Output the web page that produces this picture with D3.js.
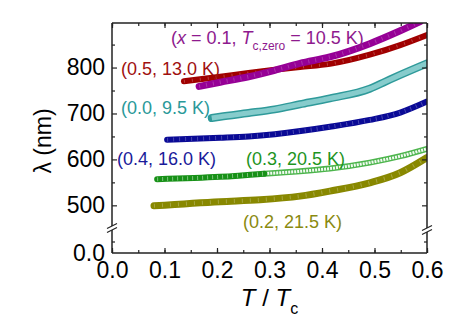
<!DOCTYPE html>
<html>
<head>
<meta charset="utf-8">
<script src="https://cdn.jsdelivr.net/npm/d3@7"></script>
<style>
  body { margin: 0; background: #fff; }
  text { font-family: "Liberation Sans", Arial, sans-serif; }
</style>
</head>
<body>
<div id="chart"></div>
<script>
// T / Tc and penetration depth (nm)
const tPurple = [0.166, 0.206, 0.26, 0.31, 0.358, 0.415, 0.491, 0.549, 0.587];
const lPurple = [759, 768, 780, 794, 809, 823, 852, 880, 900];
const tRed = [0.137, 0.206, 0.26, 0.31, 0.358, 0.415, 0.491, 0.549, 0.6];
const lRed = [770, 780, 788, 795, 801, 808, 828, 849, 871];
const tTeal = [0.19, 0.206, 0.26, 0.31, 0.358, 0.415, 0.491, 0.52, 0.549, 0.6];
const lTeal = [690, 693, 701, 709, 720, 733, 754, 769, 784, 809];
const tNavy = [0.105, 0.206, 0.26, 0.31, 0.415, 0.491, 0.549, 0.6];
const lNavy = [643, 647, 650, 655, 671, 686, 702, 726];
const tGreen = [0.086, 0.206, 0.29, 0.358, 0.415, 0.491, 0.549, 0.6];
const lGreen = [557, 562, 569, 574, 580, 593, 607, 623];
const tOlive = [0.08, 0.206, 0.282, 0.358, 0.415, 0.491, 0.549, 0.6];
const lOlive = [499, 508, 512, 520, 531, 549, 571, 604];
const greenOpenFrom = 0.29; // green markers turn open from this T/Tc on

const xTicks = [0, 0.1, 0.2, 0.3, 0.4, 0.5, 0.6];
const yTicksUpper = [500, 600, 700, 800];
const yTicksLower = [0];

const W = 469, H = 322;
const m = { left: 112, top: 23, right: 42, bottom: 69 };
const x = d3.scaleLinear([0, 0.6], [m.left, W - m.right]);
const yUp = d3.scaleLinear([455, 897], [226, m.top]);
const yLow = d3.scaleLinear([0, 50], [H - m.bottom, 230]);

const svg = d3.select('#chart').append('svg')
  .attr('width', W).attr('height', H);

svg.append('clipPath').attr('id', 'clip')
  .append('rect')
  .attr('x', x(0)).attr('y', yUp.range()[1])
  .attr('width', x(0.6) - x(0)).attr('height', yUp.range()[0] - yUp.range()[1]);

const line = d3.line().x(d => x(d[0])).y(d => yUp(d[1])).curve(d3.curveMonotoneX);
const plot = svg.append('g').attr('clip-path', 'url(#clip)');

// dense markers -> thick stroked band, with faint stripes for the marker texture
function band(pts, color, width, inner) {
  plot.append('path').attr('d', line(pts))
    .attr('fill', 'none').attr('stroke', color)
    .attr('stroke-width', width).attr('stroke-linecap', 'round');
  if(inner) {
    plot.append('path').attr('d', line(pts))
      .attr('fill', 'none').attr('stroke', inner.color)
      .attr('stroke-width', inner.width)
      .attr('stroke-dasharray', inner.dash || null)
      .attr('opacity', inner.opacity || 1);
  }
}
const zip = (ts, ls) => ts.map((t, i) => [t, ls[i]]);

band(zip(tOlive, lOlive), '#888800', 7, { color: '#fff', width: 4, dash: '1 7', opacity: 0.25 });

const green = zip(tGreen, lGreen);
band(green.filter(d => d[0] >= greenOpenFrom), '#4db54d', 6, { color: '#f2faf2', width: 3, dash: '2 1' });
band(green.filter(d => d[0] <= greenOpenFrom), '#179117', 6, { color: '#fff', width: 4, dash: '1 4', opacity: 0.45 });

band(zip(tNavy, lNavy), '#0a0a96', 6, { color: '#fff', width: 4, dash: '1 5', opacity: 0.25 });
band(zip(tTeal, lTeal), '#2f9a9a', 8, { color: '#86cccc', width: 5 });
band(zip(tRed, lRed), '#a00000', 6, { color: '#fff', width: 3, dash: '1 7', opacity: 0.25 });
band(zip(tPurple, lPurple), '#960096', 7, { color: '#fff', width: 4, dash: '1 6', opacity: 0.2 });

// axes
const axisColor = '#222';
function styleAxis(g) {
  g.select('.domain').remove();
  g.selectAll('line').attr('stroke', axisColor).attr('stroke-width', 1.2);
  g.selectAll('text').attr('fill', '#000').style('font-size', '23px')
    .style('font-family', '"Liberation Sans", Arial, sans-serif');
}
const fmt = d3.format('.1f');
const xMinor = d3.range(0, 0.601, 0.05);

svg.append('g').attr('transform', `translate(0,${H - m.bottom})`)
  .call(d3.axisBottom(x).tickValues(xMinor).tickSize(-3).tickFormat(''))
  .call(styleAxis);
svg.append('g').attr('transform', `translate(0,${H - m.bottom})`)
  .call(d3.axisBottom(x).tickValues(xTicks).tickSize(-5).tickPadding(9).tickFormat(fmt))
  .call(styleAxis);
svg.append('g').attr('transform', `translate(0,${m.top})`)
  .call(d3.axisTop(x).tickValues(xMinor).tickSize(-3).tickFormat(''))
  .call(styleAxis);
svg.append('g').attr('transform', `translate(0,${m.top})`)
  .call(d3.axisTop(x).tickValues(xTicks).tickSize(-5).tickFormat(''))
  .call(styleAxis);

const yMinorUp = [550, 650, 750, 850];
[[m.left, d3.axisLeft], [W - m.right, d3.axisRight]].forEach(([px, ax], k) => {
  svg.append('g').attr('transform', `translate(${px},0)`)
    .call(ax(yUp).tickValues(yMinorUp).tickSize(-3).tickFormat(''))
    .call(styleAxis);
  svg.append('g').attr('transform', `translate(${px},0)`)
    .call(ax(yUp).tickValues(yTicksUpper).tickSize(-5).tickPadding(7).tickFormat(k ? '' : d3.format('d')))
    .call(styleAxis);
  svg.append('g').attr('transform', `translate(${px},0)`)
    .call(ax(yLow).tickValues([25]).tickSize(-3).tickFormat(''))
    .call(styleAxis);
  svg.append('g').attr('transform', `translate(${px},0)`)
    .call(ax(yLow).tickValues(yTicksLower).tickSize(0).tickPadding(7).tickFormat(k ? '' : fmt))
    .call(styleAxis);
});

// frame with the broken y axis
const frame = svg.append('g').attr('stroke', axisColor).attr('stroke-width', 1.5).attr('fill', 'none');
frame.append('line').attr('x1', x(0)).attr('x2', x(0.6)).attr('y1', yUp.range()[1]).attr('y2', yUp.range()[1]);
frame.append('line').attr('x1', x(0)).attr('x2', x(0.6)).attr('y1', yLow.range()[0]).attr('y2', yLow.range()[0]);
[x(0), x(0.6)].forEach((px, k) => {
  const off = k ? 2 : 0;
  frame.append('line').attr('x1', px).attr('x2', px).attr('y1', yUp.range()[1]).attr('y2', yUp.range()[0] + off);
  frame.append('line').attr('x1', px).attr('x2', px).attr('y1', yLow.range()[1] + off).attr('y2', yLow.range()[0]);
  [yUp.range()[0] + off, yLow.range()[1] + off].forEach(py => {
    frame.append('line').attr('x1', px - 5).attr('y1', py + 2.5).attr('x2', px + 5).attr('y2', py - 2.5)
      .attr('stroke-width', 1.2);
  });
});

// axis titles
svg.append('text')
  .attr('transform', `translate(51,${(yUp.range()[1] + yLow.range()[0]) / 2 + 3}) rotate(-90)`)
  .attr('text-anchor', 'middle').style('font-size', '23px')
  .text('λ (nm)');
const xt = svg.append('text').attr('x', (x(0) + x(0.6)) / 2).attr('y', 306)
  .attr('text-anchor', 'middle').style('font-size', '24px');
xt.append('tspan').style('font-style', 'italic').text('T');
xt.append('tspan').text(' / ');
xt.append('tspan').style('font-style', 'italic').text('T');
xt.append('tspan').attr('dy', 8).style('font-size', '16px').text('c');

// series labels
const labels = [
  { text: '(0.5, 13.0 K)', color: '#a01010', x: 121, y: 75 },
  { text: '(0.0, 9.5 K)', color: '#2a9999', x: 121, y: 114 },
  { text: '(0.4, 16.0 K)', color: '#1a1a9a', x: 117, y: 165 },
  { text: '(0.3, 20.5 K)', color: '#1e941e', x: 246, y: 165 },
  { text: '(0.2, 21.5 K)', color: '#8a8a10', x: 243, y: 228 }
];
labels.forEach(d => {
  svg.append('text').attr('x', d.x).attr('y', d.y)
    .attr('fill', d.color).style('font-size', '18px').text(d.text);
});
const pl = svg.append('text').attr('x', 171).attr('y', 44)
  .attr('fill', '#8e1a8e').style('font-size', '18px');
pl.append('tspan').text('(');
pl.append('tspan').style('font-style', 'italic').text('x');
pl.append('tspan').text(' = 0.1, ');
pl.append('tspan').style('font-style', 'italic').text('T');
pl.append('tspan').attr('dy', 6).style('font-size', '12px').text('c,zero');
pl.append('tspan').attr('dy', -6).text(' = 10.5 K)');
</script>
</body>
</html>
